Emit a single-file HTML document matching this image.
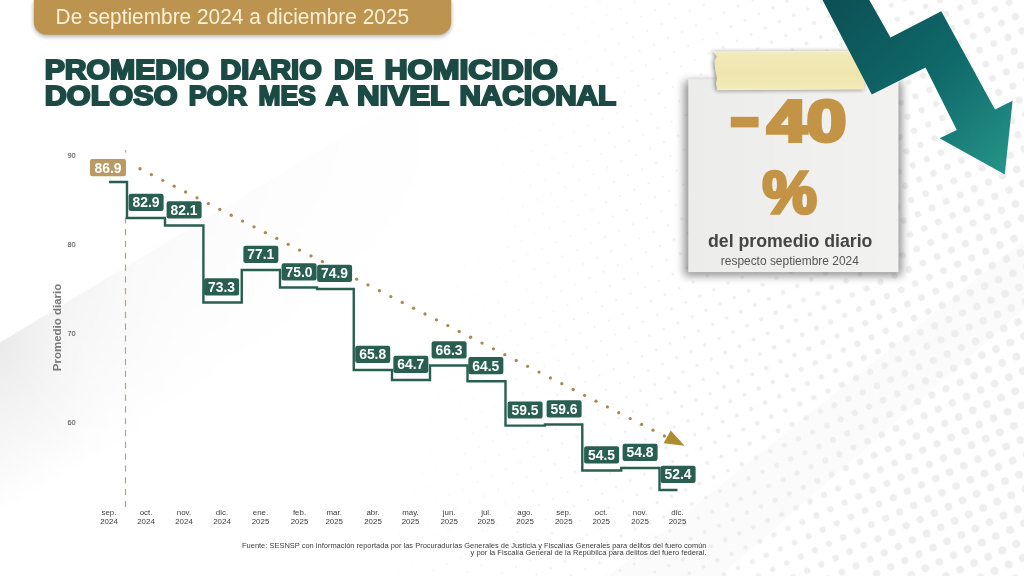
<!DOCTYPE html>
<html lang="es">
<head>
<meta charset="utf-8">
<title>Promedio diario de homicidio doloso por mes a nivel nacional</title>
<style>
  html, body { margin: 0; padding: 0; background: #ffffff; }
  body { width: 1024px; height: 576px; overflow: hidden; font-family: "Liberation Sans", sans-serif; }
  svg { display: block; font-family: "Liberation Sans", sans-serif; will-change: transform; }
</style>
</head>
<body>
<svg width="1024" height="576" viewBox="0 0 1024 576">
  <defs>
    <pattern id="d0" width="15.5" height="15.5" patternUnits="userSpaceOnUse" patternTransform="translate(924.1 415.6) rotate(-24.4) translate(-7.75 -7.75)"><circle cx="7.75" cy="7.75" r="0.54" fill="#eeeeee"/></pattern>
    <pattern id="d1" width="15.5" height="15.5" patternUnits="userSpaceOnUse" patternTransform="translate(924.1 415.6) rotate(-24.4) translate(-7.75 -7.75)"><circle cx="7.75" cy="7.75" r="0.73" fill="#eeeeee"/></pattern>
    <pattern id="d2" width="15.5" height="15.5" patternUnits="userSpaceOnUse" patternTransform="translate(924.1 415.6) rotate(-24.4) translate(-7.75 -7.75)"><circle cx="7.75" cy="7.75" r="0.84" fill="#eeeeee"/></pattern>
    <pattern id="d3" width="15.5" height="15.5" patternUnits="userSpaceOnUse" patternTransform="translate(924.1 415.6) rotate(-24.4) translate(-7.75 -7.75)"><circle cx="7.75" cy="7.75" r="0.94" fill="#eeeeee"/></pattern>
    <pattern id="d4" width="15.5" height="15.5" patternUnits="userSpaceOnUse" patternTransform="translate(924.1 415.6) rotate(-24.4) translate(-7.75 -7.75)"><circle cx="7.75" cy="7.75" r="1.04" fill="#eeeeee"/></pattern>
    <pattern id="d5" width="15.5" height="15.5" patternUnits="userSpaceOnUse" patternTransform="translate(924.1 415.6) rotate(-24.4) translate(-7.75 -7.75)"><circle cx="7.75" cy="7.75" r="1.37" fill="#eeeeee"/></pattern>
    <pattern id="d6" width="15.5" height="15.5" patternUnits="userSpaceOnUse" patternTransform="translate(924.1 415.6) rotate(-24.4) translate(-7.75 -7.75)"><circle cx="7.75" cy="7.75" r="1.70" fill="#eeeeee"/></pattern>
    <pattern id="d7" width="15.5" height="15.5" patternUnits="userSpaceOnUse" patternTransform="translate(924.1 415.6) rotate(-24.4) translate(-7.75 -7.75)"><circle cx="7.75" cy="7.75" r="2.03" fill="#eeeeee"/></pattern>
    <pattern id="d8" width="15.5" height="15.5" patternUnits="userSpaceOnUse" patternTransform="translate(924.1 415.6) rotate(-24.4) translate(-7.75 -7.75)"><circle cx="7.75" cy="7.75" r="2.37" fill="#eeeeee"/></pattern>
    <pattern id="d9" width="15.5" height="15.5" patternUnits="userSpaceOnUse" patternTransform="translate(924.1 415.6) rotate(-24.4) translate(-7.75 -7.75)"><circle cx="7.75" cy="7.75" r="2.71" fill="#eeeeee"/></pattern>
    <pattern id="d10" width="15.5" height="15.5" patternUnits="userSpaceOnUse" patternTransform="translate(924.1 415.6) rotate(-24.4) translate(-7.75 -7.75)"><circle cx="7.75" cy="7.75" r="3.06" fill="#eeeeee"/></pattern>
    <pattern id="d11" width="15.5" height="15.5" patternUnits="userSpaceOnUse" patternTransform="translate(924.1 415.6) rotate(-24.4) translate(-7.75 -7.75)"><circle cx="7.75" cy="7.75" r="3.40" fill="#eeeeee"/></pattern>
    <pattern id="d12" width="15.5" height="15.5" patternUnits="userSpaceOnUse" patternTransform="translate(924.1 415.6) rotate(-24.4) translate(-7.75 -7.75)"><circle cx="7.75" cy="7.75" r="3.64" fill="#eeeeee"/></pattern>
    <pattern id="d13" width="15.5" height="15.5" patternUnits="userSpaceOnUse" patternTransform="translate(924.1 415.6) rotate(-24.4) translate(-7.75 -7.75)"><circle cx="7.75" cy="7.75" r="3.81" fill="#eeeeee"/></pattern>
    <pattern id="d14" width="15.5" height="15.5" patternUnits="userSpaceOnUse" patternTransform="translate(924.1 415.6) rotate(-24.4) translate(-7.75 -7.75)"><circle cx="7.75" cy="7.75" r="3.97" fill="#eeeeee"/></pattern>
    <pattern id="d15" width="15.5" height="15.5" patternUnits="userSpaceOnUse" patternTransform="translate(924.1 415.6) rotate(-24.4) translate(-7.75 -7.75)"><circle cx="7.75" cy="7.75" r="4.14" fill="#eeeeee"/></pattern>
    <linearGradient id="cornerG" gradientUnits="userSpaceOnUse" x1="0" y1="342.5" x2="77" y2="471">
      <stop offset="0" stop-color="#eaeaea"/>
      <stop offset="0.4" stop-color="#f3f3f3"/>
      <stop offset="1" stop-color="#ffffff"/>
    </linearGradient>
    <linearGradient id="cornerM" gradientUnits="userSpaceOnUse" x1="0" y1="342.5" x2="450" y2="72">
      <stop offset="0" stop-color="#fff" stop-opacity="1"/>
      <stop offset="0.12" stop-color="#fff" stop-opacity="0.55"/>
      <stop offset="0.3" stop-color="#fff" stop-opacity="0.26"/>
      <stop offset="0.6" stop-color="#fff" stop-opacity="0.12"/>
      <stop offset="1" stop-color="#fff" stop-opacity="0"/>
    </linearGradient>
    <mask id="cornerMask"><rect width="1024" height="576" fill="url(#cornerM)"/></mask>
    <linearGradient id="arrowG" gradientUnits="userSpaceOnUse" x1="840" y1="0" x2="1005" y2="170">
      <stop offset="0" stop-color="#0c5156"/>
      <stop offset="0.5" stop-color="#0f6869"/>
      <stop offset="1" stop-color="#249387"/>
    </linearGradient>
    <linearGradient id="tapeG" x1="0" y1="0" x2="0" y2="1">
      <stop offset="0" stop-color="#f6f1d0"/>
      <stop offset="0.10" stop-color="#f1e9b8"/>
      <stop offset="0.55" stop-color="#efe6ae"/>
      <stop offset="0.92" stop-color="#f1e9b6"/>
      <stop offset="1" stop-color="#f5efc8"/>
    </linearGradient>
    <linearGradient id="noteG" x1="0" y1="0" x2="1" y2="0">
      <stop offset="0" stop-color="#ececea"/>
      <stop offset="1" stop-color="#f2f2f0"/>
    </linearGradient>
    <filter id="blur4" x="-20%" y="-20%" width="140%" height="140%"><feGaussianBlur stdDeviation="4"/></filter>
    <filter id="blur2" x="-20%" y="-50%" width="140%" height="200%"><feGaussianBlur stdDeviation="2.2"/></filter>
  </defs>

  <!-- background -->
  <rect width="1024" height="576" fill="#ffffff"/>
  <polygon points="0,342.5 450,72 600,72 600,576 0,576" fill="url(#cornerG)" mask="url(#cornerMask)"/>
  <polygon points="608,576 1024,240 1024,309 721,576" fill="#000" opacity="0.016"/>
  <g><polygon points="527.0,0 567.6,0 423.6,576 383.0,576" fill="url(#d0)"/><polygon points="567.6,0 608.2,0 464.2,576 423.6,576" fill="url(#d1)"/><polygon points="608.2,0 648.9,0 504.9,576 464.2,576" fill="url(#d2)"/><polygon points="648.9,0 689.5,0 545.5,576 504.9,576" fill="url(#d3)"/><polygon points="689.5,0 730.1,0 586.1,576 545.5,576" fill="url(#d4)"/><polygon points="730.1,0 770.8,0 626.8,576 586.1,576" fill="url(#d5)"/><polygon points="770.8,0 811.4,0 667.4,576 626.8,576" fill="url(#d6)"/><polygon points="811.4,0 852.0,0 708.0,576 667.4,576" fill="url(#d7)"/><polygon points="852.0,0 892.6,0 748.6,576 708.0,576" fill="url(#d8)"/><polygon points="892.6,0 933.2,0 789.2,576 748.6,576" fill="url(#d9)"/><polygon points="933.2,0 973.9,0 829.9,576 789.2,576" fill="url(#d10)"/><polygon points="973.9,0 1014.5,0 870.5,576 829.9,576" fill="url(#d11)"/><polygon points="1014.5,0 1055.1,0 911.1,576 870.5,576" fill="url(#d12)"/><polygon points="1055.1,0 1095.8,0 951.8,576 911.1,576" fill="url(#d13)"/><polygon points="1095.8,0 1136.4,0 992.4,576 951.8,576" fill="url(#d14)"/><polygon points="1136.4,0 1177.0,0 1033.0,576 992.4,576" fill="url(#d15)"/></g>

  <!-- top banner -->
  <path d="M33.8,0 H451.2 V22.2 a12.5,12.5 0 0 1 -12.5,12.5 H46.3 a12.5,12.5 0 0 1 -12.5,-12.5 Z" fill="#000" opacity="0.30" filter="url(#blur2)" transform="translate(0,2)"/>
  <path d="M33.8,0 H451.2 V22.2 a12.5,12.5 0 0 1 -12.5,12.5 H46.3 a12.5,12.5 0 0 1 -12.5,-12.5 Z" fill="#bc9450"/>
  <text x="55.6" y="24.2" font-size="22" fill="#fbf1d6" textLength="353.5" lengthAdjust="spacingAndGlyphs">De septiembre 2024 a diciembre 2025</text>

  <!-- title -->
  <g font-weight="700" fill="#1c4a45" font-size="27.0" stroke="#1c4a45" stroke-width="2.0" stroke-linejoin="miter" stroke-miterlimit="3">
    <text x="44.70" y="78.50" textLength="164.20" lengthAdjust="spacingAndGlyphs">PROMEDIO</text>
    <text x="220.20" y="78.50" textLength="101.50" lengthAdjust="spacingAndGlyphs">DIARIO</text>
    <text x="334.00" y="78.50" textLength="39.10" lengthAdjust="spacingAndGlyphs">DE</text>
    <text x="384.40" y="78.50" textLength="173.30" lengthAdjust="spacingAndGlyphs">HOMICIDIO</text>
    <text x="44.70" y="104.80" textLength="132.80" lengthAdjust="spacingAndGlyphs">DOLOSO</text>
    <text x="188.80" y="104.80" textLength="58.20" lengthAdjust="spacingAndGlyphs">POR</text>
    <text x="258.60" y="104.80" textLength="57.20" lengthAdjust="spacingAndGlyphs">MES</text>
    <text x="325.80" y="104.80" textLength="22.40" lengthAdjust="spacingAndGlyphs">A</text>
    <text x="356.90" y="104.80" textLength="92.40" lengthAdjust="spacingAndGlyphs">NIVEL</text>
    <text x="459.40" y="104.80" textLength="156.90" lengthAdjust="spacingAndGlyphs">NACIONAL</text>
  </g>

  <!-- chart -->
  <line x1="125.5" y1="150" x2="125.5" y2="152.5" stroke="#c9a680" stroke-width="1.2"/>
  <line x1="125.5" y1="217.2" x2="125.5" y2="508" stroke="#b9a084" stroke-width="1.2" stroke-dasharray="6.2 5.62"/>
  <g fill="#a58c50"><circle cx="140.00" cy="168.75" r="1.65"/><circle cx="151.40" cy="174.56" r="1.65"/><circle cx="162.80" cy="180.37" r="1.65"/><circle cx="174.20" cy="186.18" r="1.65"/><circle cx="185.60" cy="191.99" r="1.65"/><circle cx="197.00" cy="197.80" r="1.65"/><circle cx="208.40" cy="203.61" r="1.65"/><circle cx="219.80" cy="209.42" r="1.65"/><circle cx="231.20" cy="215.23" r="1.65"/><circle cx="242.60" cy="221.04" r="1.65"/><circle cx="254.00" cy="226.85" r="1.65"/><circle cx="265.40" cy="232.66" r="1.65"/><circle cx="276.80" cy="238.47" r="1.65"/><circle cx="288.20" cy="244.28" r="1.65"/><circle cx="299.60" cy="250.09" r="1.65"/><circle cx="311.00" cy="255.90" r="1.65"/><circle cx="322.40" cy="261.71" r="1.65"/><circle cx="333.80" cy="267.52" r="1.65"/><circle cx="345.20" cy="273.33" r="1.65"/><circle cx="356.60" cy="279.14" r="1.65"/><circle cx="368.00" cy="284.95" r="1.65"/><circle cx="379.40" cy="290.76" r="1.65"/><circle cx="390.80" cy="296.57" r="1.65"/><circle cx="402.20" cy="302.38" r="1.65"/><circle cx="413.60" cy="308.18" r="1.65"/><circle cx="425.00" cy="313.99" r="1.65"/><circle cx="436.40" cy="319.80" r="1.65"/><circle cx="447.80" cy="325.61" r="1.65"/><circle cx="459.20" cy="331.42" r="1.65"/><circle cx="470.60" cy="337.23" r="1.65"/><circle cx="482.00" cy="343.04" r="1.65"/><circle cx="493.40" cy="348.85" r="1.65"/><circle cx="504.80" cy="354.66" r="1.65"/><circle cx="516.20" cy="360.47" r="1.65"/><circle cx="527.60" cy="366.28" r="1.65"/><circle cx="539.00" cy="372.09" r="1.65"/><circle cx="550.40" cy="377.90" r="1.65"/><circle cx="561.80" cy="383.71" r="1.65"/><circle cx="573.20" cy="389.52" r="1.65"/><circle cx="584.60" cy="395.33" r="1.65"/><circle cx="596.00" cy="401.14" r="1.65"/><circle cx="607.40" cy="406.95" r="1.65"/><circle cx="618.80" cy="412.76" r="1.65"/><circle cx="630.20" cy="418.57" r="1.65"/><circle cx="641.60" cy="424.38" r="1.65"/><circle cx="653.00" cy="430.19" r="1.65"/><circle cx="664.40" cy="436.00" r="1.65"/></g>
  <polygon points="663.6,443.2 670.7,430.4 684.6,445.7" fill="#b08c30"/>
  <path d="M109.00,182.00 L127.00,182.00 L127.00,218.00 L165.00,218.00 L165.00,225.50 L203.40,225.50 L203.40,302.50 L241.75,302.50 L241.75,270.00 L280.00,270.00 L280.00,287.50 L317.00,287.50 L317.00,289.00 L353.75,289.00 L353.75,370.00 L392.00,370.00 L392.00,380.00 L430.00,380.00 L430.00,365.50 L467.50,365.50 L467.50,381.25 L505.50,381.25 L505.50,425.60 L545.00,425.60 L545.00,424.50 L582.30,424.50 L582.30,470.50 L621.25,470.50 L621.25,468.00 L659.50,468.00 L659.50,490.00 L677.50,490.00" fill="none" stroke="#285f51" stroke-width="2.4" stroke-linejoin="miter"/>
  <g><rect x="90.00" y="159.00" width="36.0" height="17.2" rx="2.2" fill="#b99a62"/><text x="108.00" y="172.50" text-anchor="middle" font-size="14.2" font-weight="700" fill="#fff" textLength="27.0" lengthAdjust="spacingAndGlyphs">86.9</text><rect x="128.60" y="193.80" width="35.0" height="17.2" rx="2.2" fill="#285f51"/><text x="146.10" y="207.30" text-anchor="middle" font-size="14.2" font-weight="700" fill="#fff" textLength="27.0" lengthAdjust="spacingAndGlyphs">82.9</text><rect x="166.60" y="201.30" width="35.0" height="17.2" rx="2.2" fill="#285f51"/><text x="184.10" y="214.80" text-anchor="middle" font-size="14.2" font-weight="700" fill="#fff" textLength="27.0" lengthAdjust="spacingAndGlyphs">82.1</text><rect x="204.10" y="278.30" width="35.0" height="17.2" rx="2.2" fill="#285f51"/><text x="221.60" y="291.80" text-anchor="middle" font-size="14.2" font-weight="700" fill="#fff" textLength="27.0" lengthAdjust="spacingAndGlyphs">73.3</text><rect x="243.35" y="245.80" width="35.0" height="17.2" rx="2.2" fill="#285f51"/><text x="260.85" y="259.30" text-anchor="middle" font-size="14.2" font-weight="700" fill="#fff" textLength="27.0" lengthAdjust="spacingAndGlyphs">77.1</text><rect x="281.60" y="263.30" width="35.0" height="17.2" rx="2.2" fill="#285f51"/><text x="299.10" y="276.80" text-anchor="middle" font-size="14.2" font-weight="700" fill="#fff" textLength="27.0" lengthAdjust="spacingAndGlyphs">75.0</text><rect x="317.10" y="264.80" width="35.0" height="17.2" rx="2.2" fill="#285f51"/><text x="334.60" y="278.30" text-anchor="middle" font-size="14.2" font-weight="700" fill="#fff" textLength="27.0" lengthAdjust="spacingAndGlyphs">74.9</text><rect x="355.20" y="345.80" width="35.0" height="17.2" rx="2.2" fill="#285f51"/><text x="372.70" y="359.30" text-anchor="middle" font-size="14.2" font-weight="700" fill="#fff" textLength="27.0" lengthAdjust="spacingAndGlyphs">65.8</text><rect x="393.35" y="355.80" width="35.0" height="17.2" rx="2.2" fill="#285f51"/><text x="410.85" y="369.30" text-anchor="middle" font-size="14.2" font-weight="700" fill="#fff" textLength="27.0" lengthAdjust="spacingAndGlyphs">64.7</text><rect x="431.60" y="341.30" width="35.0" height="17.2" rx="2.2" fill="#285f51"/><text x="449.10" y="354.80" text-anchor="middle" font-size="14.2" font-weight="700" fill="#fff" textLength="27.0" lengthAdjust="spacingAndGlyphs">66.3</text><rect x="468.35" y="357.05" width="35.0" height="17.2" rx="2.2" fill="#285f51"/><text x="485.85" y="370.55" text-anchor="middle" font-size="14.2" font-weight="700" fill="#fff" textLength="27.0" lengthAdjust="spacingAndGlyphs">64.5</text><rect x="507.60" y="401.40" width="35.0" height="17.2" rx="2.2" fill="#285f51"/><text x="525.10" y="414.90" text-anchor="middle" font-size="14.2" font-weight="700" fill="#fff" textLength="27.0" lengthAdjust="spacingAndGlyphs">59.5</text><rect x="546.60" y="400.30" width="35.0" height="17.2" rx="2.2" fill="#285f51"/><text x="564.10" y="413.80" text-anchor="middle" font-size="14.2" font-weight="700" fill="#fff" textLength="27.0" lengthAdjust="spacingAndGlyphs">59.6</text><rect x="584.10" y="446.30" width="35.0" height="17.2" rx="2.2" fill="#285f51"/><text x="601.60" y="459.80" text-anchor="middle" font-size="14.2" font-weight="700" fill="#fff" textLength="27.0" lengthAdjust="spacingAndGlyphs">54.5</text><rect x="622.60" y="443.80" width="35.0" height="17.2" rx="2.2" fill="#285f51"/><text x="640.10" y="457.30" text-anchor="middle" font-size="14.2" font-weight="700" fill="#fff" textLength="27.0" lengthAdjust="spacingAndGlyphs">54.8</text><rect x="660.60" y="465.80" width="35.0" height="17.2" rx="2.2" fill="#285f51"/><text x="678.10" y="479.30" text-anchor="middle" font-size="14.2" font-weight="700" fill="#fff" textLength="27.0" lengthAdjust="spacingAndGlyphs">52.4</text></g>
  <g font-size="7.9" fill="#3c3c3c"><text x="109.00" y="515.4" text-anchor="middle">sep.</text><text x="109.00" y="524.0" text-anchor="middle">2024</text><text x="146.00" y="515.4" text-anchor="middle">oct.</text><text x="146.00" y="524.0" text-anchor="middle">2024</text><text x="184.00" y="515.4" text-anchor="middle">nov.</text><text x="184.00" y="524.0" text-anchor="middle">2024</text><text x="222.00" y="515.4" text-anchor="middle">dic.</text><text x="222.00" y="524.0" text-anchor="middle">2024</text><text x="260.50" y="515.4" text-anchor="middle">ene.</text><text x="260.50" y="524.0" text-anchor="middle">2025</text><text x="299.50" y="515.4" text-anchor="middle">feb.</text><text x="299.50" y="524.0" text-anchor="middle">2025</text><text x="334.20" y="515.4" text-anchor="middle">mar.</text><text x="334.20" y="524.0" text-anchor="middle">2025</text><text x="373.00" y="515.4" text-anchor="middle">abr.</text><text x="373.00" y="524.0" text-anchor="middle">2025</text><text x="410.50" y="515.4" text-anchor="middle">may.</text><text x="410.50" y="524.0" text-anchor="middle">2025</text><text x="449.20" y="515.4" text-anchor="middle">jun.</text><text x="449.20" y="524.0" text-anchor="middle">2025</text><text x="486.20" y="515.4" text-anchor="middle">jul.</text><text x="486.20" y="524.0" text-anchor="middle">2025</text><text x="525.00" y="515.4" text-anchor="middle">ago.</text><text x="525.00" y="524.0" text-anchor="middle">2025</text><text x="563.75" y="515.4" text-anchor="middle">sep.</text><text x="563.75" y="524.0" text-anchor="middle">2025</text><text x="601.20" y="515.4" text-anchor="middle">oct.</text><text x="601.20" y="524.0" text-anchor="middle">2025</text><text x="640.00" y="515.4" text-anchor="middle">nov.</text><text x="640.00" y="524.0" text-anchor="middle">2025</text><text x="677.50" y="515.4" text-anchor="middle">dic.</text><text x="677.50" y="524.0" text-anchor="middle">2025</text></g>
  <g font-size="7.4" fill="#3c3c3c"><text x="71.5" y="157.70" text-anchor="middle">90</text><text x="71.5" y="246.70" text-anchor="middle">80</text><text x="71.5" y="335.70" text-anchor="middle">70</text><text x="71.5" y="424.70" text-anchor="middle">60</text></g>
  <text transform="translate(61.2,327.5) rotate(-90)" text-anchor="middle" font-size="10.2" font-weight="700" fill="#7a7a7a" textLength="87.5" lengthAdjust="spacingAndGlyphs">Promedio diario</text>

  <!-- footnote -->
  <g font-size="7.2" fill="#3a3a3a" text-anchor="end">
    <text x="706.5" y="547.6" textLength="464.5" lengthAdjust="spacingAndGlyphs">Fuente: SESNSP con información reportada por las Procuradurías Generales de Justicia y Fiscalías Generales para delitos del fuero común</text>
    <text x="706.5" y="555.3" textLength="236" lengthAdjust="spacingAndGlyphs">y por la Fiscalía General de la República para delitos del fuero federal.</text>
  </g>

  <!-- sticky note -->
  <rect x="684" y="81" width="218" height="195" fill="#000" opacity="0.42" filter="url(#blur4)"/>
  <rect x="688.3" y="79.2" width="210.2" height="192.9" fill="url(#noteG)"/>
  <path d="M713,51.3 L863.2,50.6 L864.6,89.4 L717.4,90.2 L716,84 L716.8,78 L715.2,70 L714.4,61 L716.8,56.5 Z" fill="#000" opacity="0.42" filter="url(#blur2)" transform="translate(-1.5,0.5)"/>
  <path d="M713,51.3 L863.2,50.6 L864.6,89.4 L717.4,90.2 L716,84 L716.8,78 L715.2,70 L714.4,61 L716.8,56.5 Z" fill="url(#tapeG)"/>
  <g fill="#c39446" font-weight="700" stroke="#c39446" stroke-linejoin="miter" stroke-miterlimit="2.2">
    <rect x="730.8" y="116.8" width="27.8" height="10.6" stroke="none"/>
    <text x="767.3" y="140.7" font-size="57" stroke-width="3.8" textLength="79" lengthAdjust="spacingAndGlyphs">40</text>
    <text x="762.6" y="212.9" font-size="59.5" stroke-width="3.4" textLength="54.3" lengthAdjust="spacingAndGlyphs">%</text>
  </g>
  <text x="790.2" y="247.1" text-anchor="middle" font-size="18.6" font-weight="700" fill="#454545" textLength="164.5" lengthAdjust="spacingAndGlyphs">del promedio diario</text>
  <text x="789.8" y="264.6" text-anchor="middle" font-size="12.5" fill="#555555" textLength="138" lengthAdjust="spacingAndGlyphs">respecto septiembre 2024</text>

  <!-- big teal arrow -->
  <polygon points="822.5,0 869.3,0 890.5,37.5 941.3,11.2 995,109.6 1012.6,100.8 1004.8,174.5 939.6,138.3 956.8,130 925.5,67.5 871.8,94.5" fill="url(#arrowG)"/>
</svg>
</body>
</html>
